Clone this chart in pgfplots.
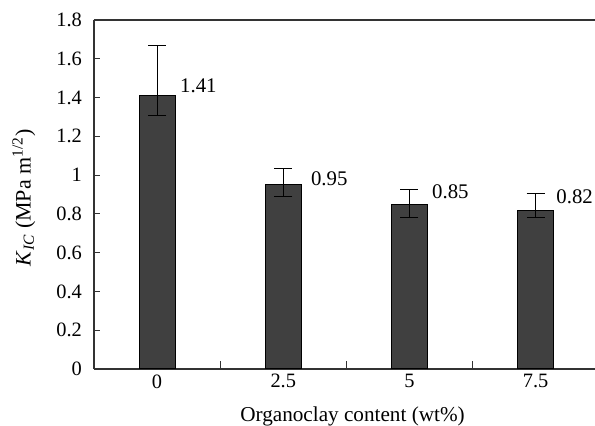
\documentclass[border=0pt]{standalone}
\usepackage{fontspec}
\setmainfont{Liberation Serif}
\usepackage{pgfplots}
\pgfplotsset{compat=1.18}
\definecolor{barfill}{HTML}{404040}
\definecolor{axcol}{HTML}{333333}
\begin{document}
\begin{tikzpicture}
\useasboundingbox (-47pt,-28.5pt) rectangle (250.5pt,184.5pt);
\begin{axis}[
  scale only axis, width=250.5pt, height=174.5pt,
  at={(0,0)}, anchor=south west,
  xmin=-0.5, xmax=3.47, ymin=0, ymax=1.8,
  axis x line*=bottom, axis y line*=left,
  axis line style={axcol, line width=0.6pt},
  /pgf/number format/assume math mode=true,
  xtick={0,1,2,3}, xticklabels={0,2.5,5,7.5},
  minor xtick={0.5,1.5,2.5},
  ytick={0,0.2,0.4,0.6,0.8,1,1.2,1.4,1.6,1.8},
  yticklabels={0,0.2,0.4,0.6,0.8,1,1.2,1.4,1.6,1.8},
  tick align=inside,
  major x tick style={draw=none},
  major tick length=3pt, minor tick length=3.8pt,
  tick style={axcol, line width=0.5pt},
  yticklabel style={font=\fontsize{10.2}{12}\selectfont, xshift=-2.5pt},
  xticklabel style={font=\fontsize{10.2}{12}\selectfont, yshift=0.8pt},
  xlabel={Organoclay content (wt\%)},
  xlabel style={at={(axis description cs:0.516,-0.151)}, anchor=base, font=\fontsize{10.6}{13}\selectfont},
  ylabel={\textit{K}\textsubscript{\textit{IC}} (MPa m\textsuperscript{1/2})},
  ylabel style={at={(axis description cs:-0.1267,0.49)}, anchor=base, font=\fontsize{11}{13}\selectfont},
  clip=false,
]
\addplot[ybar, bar width=18pt, fill=barfill, draw=black, line width=0.5pt,
  error bars/.cd, y dir=both, y explicit,
  error bar style={line width=0.5pt, black},
  error mark options={rotate=90, mark size=4.5pt, line width=0.5pt, black}]
  coordinates {
  (0,1.41) += (0,0.258) -= (0,0.101)
  (1,0.95) += (0,0.083) -= (0,0.060)
  (2,0.85) += (0,0.074) -= (0,0.071)
  (3,0.82) += (0,0.085) -= (0,0.041)
  };
\addplot[draw=none, mark=none, nodes near coords={\pgfplotspointmeta}, point meta=explicit symbolic,
  every node near coord/.style={anchor=base west, inner sep=0pt, font=\fontsize{10.4}{12}\selectfont}]
  coordinates {
  (0.18,1.426) [1.41]
  (1.217,0.945) [0.95]
  (2.177,0.879) [0.85]
  (3.161,0.855) [0.82]
  };
\draw[axcol, line width=0.6pt] (rel axis cs:0,1) -- (rel axis cs:1,1);
\end{axis}
\end{tikzpicture}
\end{document}
